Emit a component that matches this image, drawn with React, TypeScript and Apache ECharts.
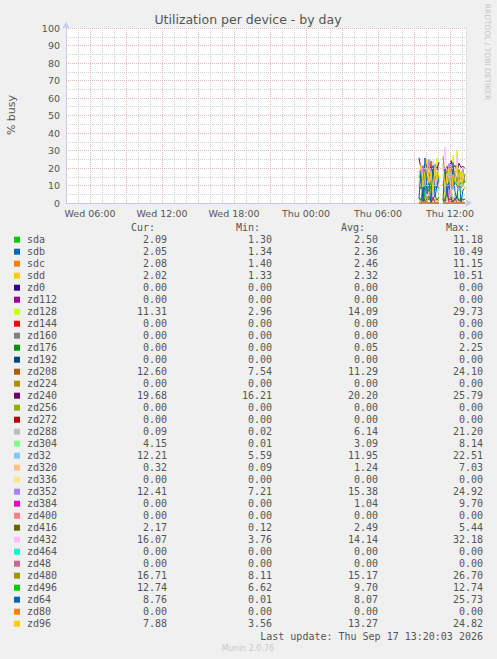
import React, { useEffect, useRef } from 'react';
import * as echarts from 'echarts';

// sample times (10 min steps), the null entry is the gap in the data
const times = [
  'Thu 09:25', 'Thu 09:35', 'Thu 09:45', 'Thu 09:55', 'Thu 10:05', 'Thu 10:15',
  'Thu 10:25', 'Thu 10:35', 'Thu 10:45', 'Thu 10:55', 'Thu 11:05', 'Thu 11:15',
  'Thu 11:25', 'Thu 11:35', 'Thu 11:45', 'Thu 11:55', 'Thu 12:05', 'Thu 12:15',
  'Thu 12:25', 'Thu 12:35', 'Thu 12:45', 'Thu 12:55', 'Thu 13:05', 'Thu 13:15',
];

const xTickLabels = ['Wed 06:00', 'Wed 12:00', 'Wed 18:00', 'Thu 00:00', 'Thu 06:00', 'Thu 12:00'];
const majorGrid = ['Wed 06:00', 'Wed 09:00', 'Wed 12:00', 'Wed 15:00', 'Wed 18:00', 'Wed 21:00',
  'Thu 00:00', 'Thu 03:00', 'Thu 06:00', 'Thu 09:00', 'Thu 12:00'];
const yMajor = [10, 20, 30, 40, 50, 60, 70, 80, 90, 100];
const xStart = 'Wed 04:00';
const xEnd = 'Thu 13:20';

const names = [
  'sda', 'sdb', 'sdc', 'sdd', 'zd0', 'zd112', 'zd128', 'zd144', 'zd160', 'zd176', 'zd192',
  'zd208', 'zd224', 'zd240', 'zd256', 'zd272', 'zd288', 'zd304', 'zd32', 'zd320', 'zd336',
  'zd352', 'zd384', 'zd400', 'zd416', 'zd432', 'zd464', 'zd48', 'zd480', 'zd496', 'zd64',
  'zd80', 'zd96',
];

// munin palette
const palette = [
  '#00CC00', '#0066B3', '#FF8000', '#FFCC00', '#330099', '#990099', '#CCFF00', '#FF0000',
  '#808080', '#008F00', '#00487D', '#B35A00', '#B38F00', '#6B006B', '#8FB300', '#B30000',
  '#BEBEBE', '#80FF80', '#80C9FF', '#FFC080', '#FFE680', '#AA80FF', '#EE00CC', '#FF8080',
  '#666600', '#FFBFFF', '#00FFCC', '#CC6699', '#999900',
];

const flat = [0, 0, 0, 0, 0, 0, 0, 0, 0, 0, 0, null, 0, 0, 0, 0, 0, 0, 0, 0, 0, 0, 0, 0];
const sda = [2.4, 1.8, 11.18, 2.1, 1.5, 2.6, 1.3, 1.9, 2.2, 1.6, 2.0, null, 2.3, 1.7, 1.4, 2.5, 1.9, 2.8, 1.6, 2.1, 1.5, 2.2, 1.8, 2.09];
const sdb = [1.9, 2.2, 1.5, 10.49, 1.8, 2.0, 1.4, 2.3, 1.7, 2.1, 1.6, null, 2.2, 1.34, 1.9, 2.4, 1.6, 2.0, 1.8, 2.2, 1.5, 1.9, 2.1, 2.05];
const sdc = [2.2, 1.6, 2.0, 1.8, 11.15, 2.1, 1.5, 2.4, 1.9, 1.4, 2.3, null, 1.8, 2.1, 1.6, 2.2, 1.9, 2.5, 1.7, 2.0, 1.6, 2.3, 1.8, 2.08];
const sdd = [1.8, 2.1, 1.5, 2.0, 1.7, 10.51, 1.9, 1.33, 2.2, 1.6, 2.0, null, 1.7, 2.2, 1.5, 1.9, 2.3, 1.6, 2.1, 1.8, 1.5, 2.0, 1.7, 2.02];
const zd128 = [12.4, 18.6, 6.2, 22.8, 9.5, 15.3, 4.1, 19.7, 11.2, 25.9, 8.4, null, 16.8, 2.96, 21.5, 13.2, 7.6, 27.1, 10.3, 29.73, 14.5, 5.8, 18.2, 11.31];
const zd176 = [0, 0, 0, 0, 0, 0, 0, 0, 0, 0, 0, null, 0, 0, 0, 0, 0, 2.25, 0, 0, 0, 0, 0, 0];
const zd208 = [10.2, 8.1, 14.6, 9.3, 7.54, 12.8, 24.1, 9.7, 11.5, 8.6, 13.2, null, 9.9, 15.4, 8.3, 10.7, 12.1, 7.9, 18.6, 9.4, 11.0, 8.8, 10.5, 12.6];
const zd240 = [25.79, 19.4, 21.2, 17.8, 22.5, 18.9, 20.6, 16.21, 21.8, 19.1, 23.4, null, 22.1, 18.4, 20.9, 17.6, 24.3, 19.8, 21.5, 18.2, 22.7, 20.3, 21.0, 19.68];
const zd288 = [8.4, 14.2, 3.6, 21.2, 9.8, 5.1, 12.7, 2.4, 16.3, 7.9, 4.5, null, 11.6, 6.2, 13.9, 3.1, 8.8, 1.2, 5.4, 0.6, 2.3, 0.02, 0.4, 0.09];
const zd304 = [2.1, 0.01, 4.6, 1.8, 3.2, 8.14, 0.9, 2.7, 5.3, 1.4, 3.8, null, 0.6, 4.1, 2.3, 6.2, 1.1, 3.5, 0.4, 5.8, 2.6, 1.9, 3.3, 4.15];
const zd32 = [9.8, 14.3, 7.2, 18.6, 11.4, 5.59, 16.2, 10.1, 22.51, 8.7, 13.5, null, 6.8, 15.1, 9.3, 19.4, 12.0, 7.6, 14.8, 10.5, 17.2, 8.9, 11.7, 12.21];
const zd320 = [0.8, 1.5, 0.3, 2.1, 0.6, 7.03, 1.2, 0.09, 0.9, 1.8, 0.4, null, 1.1, 0.5, 2.4, 0.7, 1.6, 0.2, 3.3, 0.8, 0.5, 1.3, 0.6, 0.32];
const zd352 = [18.3, 12.6, 21.4, 9.8, 16.7, 24.92, 13.2, 19.1, 7.21, 15.8, 20.5, null, 11.4, 17.9, 14.2, 22.6, 10.3, 18.8, 15.1, 21.7, 12.9, 16.4, 19.6, 12.41];
const zd384 = [0.5, 0, 2.1, 0, 0.8, 0, 0, 3.4, 0, 0.6, 0, null, 1.2, 0, 9.7, 0, 0.4, 0, 2.8, 0, 0, 1.5, 0, 0];
const zd416 = [3.1, 1.4, 5.44, 0.8, 2.6, 3.8, 0.12, 2.2, 4.1, 1.7, 3.3, null, 0.9, 2.8, 4.6, 1.5, 3.0, 0.6, 2.4, 3.9, 1.2, 2.9, 1.8, 2.17];
const zd432 = [11.2, 21.6, 7.3, 16.8, 3.76, 19.5, 12.4, 24.1, 9.6, 14.7, 6.8, null, 18.3, 32.18, 10.5, 15.9, 8.2, 22.4, 13.1, 26.6, 9.4, 17.2, 11.8, 16.07];
const zd480 = [14.2, 19.8, 10.5, 22.3, 12.6, 17.4, 8.11, 20.9, 13.7, 16.1, 11.3, null, 26.7, 14.8, 18.5, 9.6, 21.2, 13.4, 16.9, 12.1, 19.3, 15.5, 10.8, 16.71];
const zd496 = [8.2, 9.1, 7.4, 10.3, 8.8, 6.62, 9.6, 10.8, 8.5, 9.9, 7.9, null, 10.4, 9.2, 11.1, 8.7, 10.1, 9.5, 11.6, 10.2, 9.8, 11.9, 10.6, 12.74];
const zd64 = [2.4, 18.6, 0.8, 25.73, 5.2, 12.9, 0.01, 21.4, 3.6, 9.8, 15.2, null, 1.7, 19.3, 4.5, 11.8, 0.6, 23.1, 6.3, 2.2, 14.7, 0.9, 7.4, 8.76];
const zd96 = [15.4, 21.8, 9.2, 18.6, 24.82, 11.3, 17.5, 6.9, 20.4, 13.1, 16.8, null, 22.6, 8.4, 14.9, 19.7, 3.56, 16.2, 12.5, 21.3, 9.8, 18.1, 10.6, 7.88];

const seriesData = [
  sda, sdb, sdc, sdd, flat, flat, zd128, flat, flat, zd176, flat,
  zd208, flat, zd240, flat, flat, zd288, zd304, zd32, zd320, flat,
  zd352, zd384, flat, zd416, zd432, flat, flat, zd480, zd496, zd64,
  flat, zd96,
];

const curVals = [2.09, 2.05, 2.08, 2.02, 0, 0, 11.31, 0, 0, 0, 0, 12.60, 0, 19.68, 0, 0, 0.09, 4.15, 12.21, 0.32, 0, 12.41, 0, 0, 2.17, 16.07, 0, 0, 16.71, 12.74, 8.76, 0, 7.88];
const minVals = [1.30, 1.34, 1.40, 1.33, 0, 0, 2.96, 0, 0, 0, 0, 7.54, 0, 16.21, 0, 0, 0.02, 0.01, 5.59, 0.09, 0, 7.21, 0, 0, 0.12, 3.76, 0, 0, 8.11, 6.62, 0.01, 0, 3.56];
const avgVals = [2.50, 2.36, 2.46, 2.32, 0, 0, 14.09, 0, 0, 0.05, 0, 11.29, 0, 20.20, 0, 0, 6.14, 3.09, 11.95, 1.24, 0, 15.38, 1.04, 0, 2.49, 14.14, 0, 0, 15.17, 9.70, 8.07, 0, 13.27];
const maxVals = [11.18, 10.49, 11.15, 10.51, 0, 0, 29.73, 0, 0, 2.25, 0, 24.10, 0, 25.79, 0, 0, 21.20, 8.14, 22.51, 7.03, 0, 24.92, 9.70, 0, 5.44, 32.18, 0, 0, 26.70, 12.74, 25.73, 0, 24.82];

const lastUpdate = 'Last update: Thu Sep 17 13:20:03 2026';

// hours counted from Wed 00:00
const toHours = (t: string) => {
  const [day, hm] = t.split(' ');
  const [h, m] = hm.split(':').map(Number);
  return (day === 'Thu' ? 24 : 0) + h + m / 60;
};

const MONO = '10px "DejaVu Sans Mono"';
const TXT = '#555555';
const RED_GRID = '#ecb4b4';
const GRAY_GRID = '#d2d2d2';

const App: React.FC = () => {
  const chartRef = useRef<HTMLDivElement>(null);

  useEffect(() => {
    if (!chartRef.current) return;
    const chart = echarts.init(chartRef.current, null, { renderer: 'svg' });

    const graphic: any[] = [
      {
        type: 'text', x: 248, y: 19,
        style: { text: 'Utilization per device - by day', fill: TXT, font: '12.5px "DejaVu Sans"', align: 'center', verticalAlign: 'middle' },
      },
      {
        type: 'text', x: 11, y: 115, rotation: Math.PI / 2,
        style: { text: '% busy', fill: TXT, font: '11px "DejaVu Sans"', align: 'center', verticalAlign: 'middle' },
      },
      {
        type: 'text', x: 487, y: 52, rotation: -Math.PI / 2,
        style: { text: 'RRDTOOL / TOBI OETIKER', fill: '#c4c4c4', font: '7.5px "DejaVu Sans"', align: 'center', verticalAlign: 'middle' },
      },
    ];

    const headers = ['Cur:', 'Min:', 'Avg:', 'Max:'];
    const headerX = [155, 260, 365, 470];
    const valueX = [167, 272, 378, 483];
    const cols = [curVals, minVals, avgVals, maxVals];
    headers.forEach((h, k) => {
      graphic.push({ type: 'text', x: headerX[k], y: 227.5, style: { text: h, fill: TXT, font: MONO, align: 'right', verticalAlign: 'middle' } });
    });
    names.forEach((n, i) => {
      const y = 239.7 + 12 * i;
      graphic.push({ type: 'rect', shape: { x: 14, y: y - 3, width: 6, height: 6 }, style: { fill: palette[i % palette.length] } });
      graphic.push({ type: 'text', x: 27, y, style: { text: n, fill: TXT, font: MONO, align: 'left', verticalAlign: 'middle' } });
      cols.forEach((c, k) => {
        graphic.push({ type: 'text', x: valueX[k], y, style: { text: c[i].toFixed(2), fill: TXT, font: MONO, align: 'right', verticalAlign: 'middle' } });
      });
    });
    graphic.push({ type: 'text', x: 483, y: 636, style: { text: lastUpdate, fill: TXT, font: MONO, align: 'right', verticalAlign: 'middle' } });
    graphic.push({ type: 'text', x: 248, y: 648, style: { text: 'Munin 2.0.76', fill: '#c8c8c8', font: '8px "DejaVu Sans"', align: 'center', verticalAlign: 'middle' } });

    const labelHours = xTickLabels.map(toHours);

    const series: any[] = [
      {
        type: 'line', name: 'grid', data: [], silent: true, z: 1,
        markLine: {
          silent: true, symbol: 'none', animation: false,
          label: { show: false },
          lineStyle: { color: RED_GRID, type: [1, 1], width: 1 },
          data: [
            ...majorGrid.map((t) => ({ xAxis: toHours(t) })),
            ...yMajor.map((v) => ({ yAxis: v })),
          ],
        },
      },
      ...names.map((n, i) => ({
        type: 'line', name: n, z: 3, silent: true,
        symbol: 'none', connectNulls: false,
        lineStyle: { width: 1, color: palette[i % palette.length] },
        itemStyle: { color: palette[i % palette.length] },
        data: times.map((t, j) => [toHours(t), seriesData[i][j]]),
      })),
    ];

    chart.setOption({
      animation: false,
      backgroundColor: '#f0f0f0',
      grid: { left: 66, right: 31, top: 28, height: 175, show: true, backgroundColor: '#ffffff', borderWidth: 0 },
      xAxis: {
        type: 'value', min: toHours(xStart), max: toHours(xEnd), interval: 1,
        axisLine: { show: true, lineStyle: { color: '#c8c8f0' }, symbol: ['none', 'arrow'], symbolSize: [6, 7], symbolOffset: [0, 6] },
        axisTick: { show: false },
        axisLabel: {
          showMinLabel: true, showMaxLabel: true,
          color: TXT, fontFamily: 'DejaVu Sans', fontSize: 9.5, margin: 5,
          formatter: (v: number) => {
            const k = labelHours.findIndex((h) => Math.abs(h - v) < 0.01);
            return k >= 0 ? xTickLabels[k] : '';
          },
        },
        splitLine: { show: true, lineStyle: { color: GRAY_GRID, type: [1, 1] } },
      },
      yAxis: {
        type: 'value', min: 0, max: 100, interval: 5,
        axisLine: { show: true, lineStyle: { color: '#c8c8f0' }, symbol: ['none', 'arrow'], symbolSize: [6, 7], symbolOffset: [0, 6] },
        axisTick: { show: false },
        axisLabel: {
          color: TXT, fontFamily: 'DejaVu Sans', fontSize: 9.5, margin: 6,
          formatter: (v: number) => (v % 10 === 0 ? String(v) : ''),
        },
        splitLine: { show: true, lineStyle: { color: GRAY_GRID, type: [1, 1] } },
      },
      graphic,
      series,
    });

    return () => {
      chart.dispose();
    };
  }, []);

  return <div ref={chartRef} style={{ position: 'absolute', left: 0, top: 0, width: 497, height: 659 }} />;
};

export default App;
